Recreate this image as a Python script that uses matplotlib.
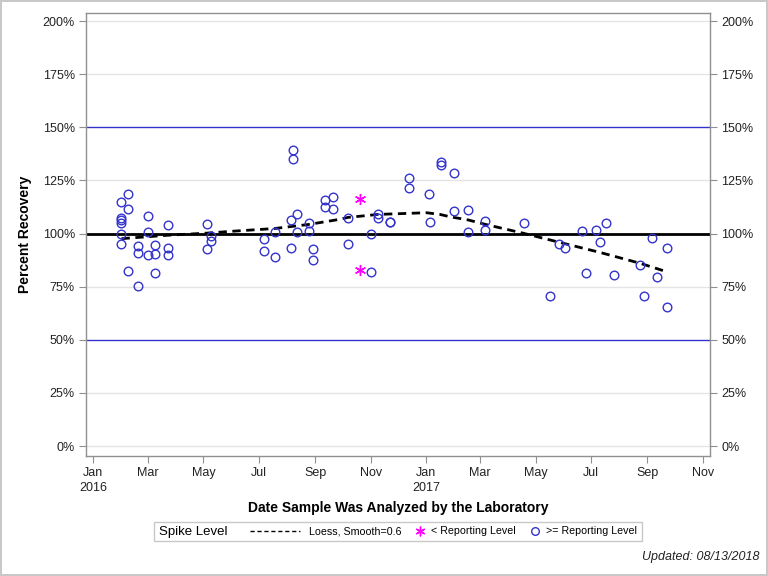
import matplotlib
matplotlib.use("Agg")
import matplotlib.pyplot as plt
from matplotlib.lines import Line2D
from matplotlib.patches import Rectangle
import pandas as pd

plt.rcParams['font.family'] = ['Liberation Sans', 'DejaVu Sans']

# >= Reporting Level samples
ge_dates = [
    "2016-02-01", "2016-02-01", "2016-02-01", "2016-02-01", "2016-02-01", "2016-02-01",
    "2016-02-08", "2016-02-08", "2016-02-08",
    "2016-02-19", "2016-02-19", "2016-02-19",
    "2016-03-01", "2016-03-01", "2016-03-01",
    "2016-03-09", "2016-03-09", "2016-03-09",
    "2016-03-23", "2016-03-23", "2016-03-23",
    "2016-05-05", "2016-05-05", "2016-05-09", "2016-05-09",
    "2016-07-07", "2016-07-07", "2016-07-19", "2016-07-19",
    "2016-08-05", "2016-08-05", "2016-08-08", "2016-08-08",
    "2016-08-12", "2016-08-12", "2016-08-25", "2016-08-25",
    "2016-08-30", "2016-08-30", "2016-09-12", "2016-09-12",
    "2016-09-20", "2016-09-20", "2016-10-07", "2016-10-07",
    "2016-11-01", "2016-11-01", "2016-11-09", "2016-11-09",
    "2016-11-22", "2016-11-22", "2016-12-13", "2016-12-13",
    "2017-01-04", "2017-01-05", "2017-01-17", "2017-01-17",
    "2017-01-31", "2017-01-31", "2017-02-16", "2017-02-16",
    "2017-03-07", "2017-03-07", "2017-04-18", "2017-05-17",
    "2017-05-27", "2017-06-02", "2017-06-21", "2017-06-26",
    "2017-07-06", "2017-07-11", "2017-07-18", "2017-07-26",
    "2017-08-24", "2017-08-28", "2017-09-06", "2017-09-12",
    "2017-09-22", "2017-09-23",
]
ge_values = [
    114.7, 107.4, 106.4, 105.1, 99.8, 94.9,
    118.4, 111.5, 82.2,
    94.0, 90.7, 75.1,
    108.1, 100.6, 89.7,
    94.4, 90.2, 81.3,
    103.9, 93.0, 89.7,
    104.5, 92.6, 98.7, 96.6,
    97.3, 91.6, 100.6, 88.8,
    106.2, 93.0, 139.1, 134.9,
    109.0, 100.6, 104.8, 101.0,
    92.6, 87.4, 115.6, 112.3,
    117.0, 111.4, 107.1, 94.9,
    99.6, 81.9, 109.2, 107.1,
    105.6, 105.3, 126.0, 121.3,
    118.4, 105.3, 133.6, 132.2,
    128.3, 110.4, 110.9, 100.6,
    105.7, 101.5, 104.8, 70.4,
    94.9, 93.0, 101.0, 81.3,
    101.5, 95.9, 104.8, 80.3,
    85.0, 70.4, 97.7, 79.4,
    65.3, 93.0,
]

# < Reporting Level samples
lt_dates = ["2016-10-20", "2016-10-20"]
lt_values = [116.1, 82.7]

# Loess fit (Smooth=0.6)
loess_dates = [
    "2016-02-01", "2016-03-23", "2016-05-05", "2016-05-30", "2016-07-19",
    "2016-08-25", "2016-09-28", "2016-10-07", "2016-11-09", "2017-01-01",
    "2017-01-16", "2017-01-27", "2017-02-16", "2017-03-07", "2017-04-18",
    "2017-05-27", "2017-07-11", "2017-08-24", "2017-09-23",
]
loess_values = [
    97.6, 99.2, 100.2, 101.0, 102.4,
    104.3, 106.7, 107.6, 109.0, 109.8,
    109.0, 107.9, 106.4, 104.3, 100.1,
    95.9, 91.1, 86.0, 81.9,
]

ref_lines = [50, 100, 150]
y_ticks = [0, 25, 50, 75, 100, 125, 150, 175, 200]
x_tick_dates = ["2016-01-01", "2016-03-01", "2016-05-01", "2016-07-01", "2016-09-01",
                "2016-11-01", "2017-01-01", "2017-03-01", "2017-05-01", "2017-07-01",
                "2017-09-01", "2017-11-01"]
x_tick_labels = ["Jan\n2016", "Mar", "May", "Jul", "Sep", "Nov",
                 "Jan\n2017", "Mar", "May", "Jul", "Sep", "Nov"]

BLUE = '#3333CC'

fig = plt.figure(figsize=(7.68, 5.76), dpi=100)
fig.patch.set_edgecolor('#c8c8c8')
fig.patch.set_linewidth(1.5)
ax = fig.add_axes([86 / 768, 1 - 456 / 576, (710 - 86) / 768, (456 - 13) / 576])

for yv in y_ticks:
    if yv not in ref_lines:
        ax.axhline(yv, color='#e4e4e4', lw=1, zorder=0)
ax.axhline(150, color=BLUE, lw=1, zorder=1)
ax.axhline(50, color=BLUE, lw=1, zorder=1)
ax.axhline(100, color='black', lw=2, zorder=1)

ax.plot(pd.to_datetime(loess_dates), loess_values, color='black', lw=2,
        dashes=(3, 2), zorder=3)
ax.plot(pd.to_datetime(ge_dates), ge_values, linestyle='none', marker='o',
        markersize=6.2, markerfacecolor='none', markeredgecolor=BLUE,
        markeredgewidth=1, zorder=4)
ax.plot(pd.to_datetime(lt_dates), lt_values, linestyle='none', marker=(6, 2, 0),
        markersize=8, markeredgecolor='#FF00FF', markeredgewidth=1, zorder=4)

ax.set_xlim(pd.Timestamp("2015-12-24"), pd.Timestamp("2017-11-08 18:00"))
ax.set_ylim(-4.7, 203.8)
ax.set_yticks(y_ticks)
ax.set_yticklabels([f"{v}%" for v in y_ticks])
ax.set_xticks(pd.to_datetime(x_tick_dates))
ax.set_xticklabels(x_tick_labels, linespacing=1.3)
ax.tick_params(axis='both', direction='out', length=5, color='#909090',
               labelsize=9, labelcolor='#222222')
ax.tick_params(axis='y', right=True, labelright=True, pad=3)
ax.tick_params(axis='x', pad=3)
for s in ax.spines.values():
    s.set_color('#909090')
    s.set_linewidth(1)

ax.set_ylabel("Percent Recovery", fontsize=10, fontweight='bold', labelpad=8)
ax.set_xlabel("Date Sample Was Analyzed by the Laboratory", fontsize=10,
              fontweight='bold', labelpad=5)

# Legend
fig.patches.append(Rectangle((154 / 768, 1 - 541 / 576), (642 - 154) / 768, 19 / 576,
                             transform=fig.transFigure, facecolor='white',
                             edgecolor='#c8c8c8', lw=1))
fig.text(159 / 768, 1 - 531.5 / 576, "Spike Level", fontsize=9.5, va='center', ha='left')
h_loess = Line2D([], [], color='black', lw=1, dashes=(3, 2))
leg1 = fig.legend([h_loess], ["Loess, Smooth=0.6"], loc='center left',
                  bbox_to_anchor=(250 / 768, 1 - 531.5 / 576), frameon=False,
                  fontsize=7.7, handlelength=4.7, handletextpad=0.8, borderpad=0,
                  borderaxespad=0)
h_lt = Line2D([], [], linestyle='none', marker=(6, 2, 0), markersize=7,
              markeredgecolor='#FF00FF', markeredgewidth=1)
h_ge = Line2D([], [], linestyle='none', marker='o', markersize=5.5,
              markerfacecolor='none', markeredgecolor=BLUE, markeredgewidth=1)
leg2 = fig.legend([h_lt, h_ge], ["< Reporting Level", ">= Reporting Level"],
                  loc='center left', bbox_to_anchor=(415 / 768, 1 - 531.5 / 576),
                  frameon=False, fontsize=7.7, ncol=2, handlelength=1.0,
                  handletextpad=0.5, columnspacing=1.3, borderpad=0, borderaxespad=0)

fig.text(760 / 768, 1 - 557 / 576, "Updated: 08/13/2018", fontsize=9,
         style='italic', ha='right', va='center', color='#222222')

fig.savefig("out.png", dpi=100)
